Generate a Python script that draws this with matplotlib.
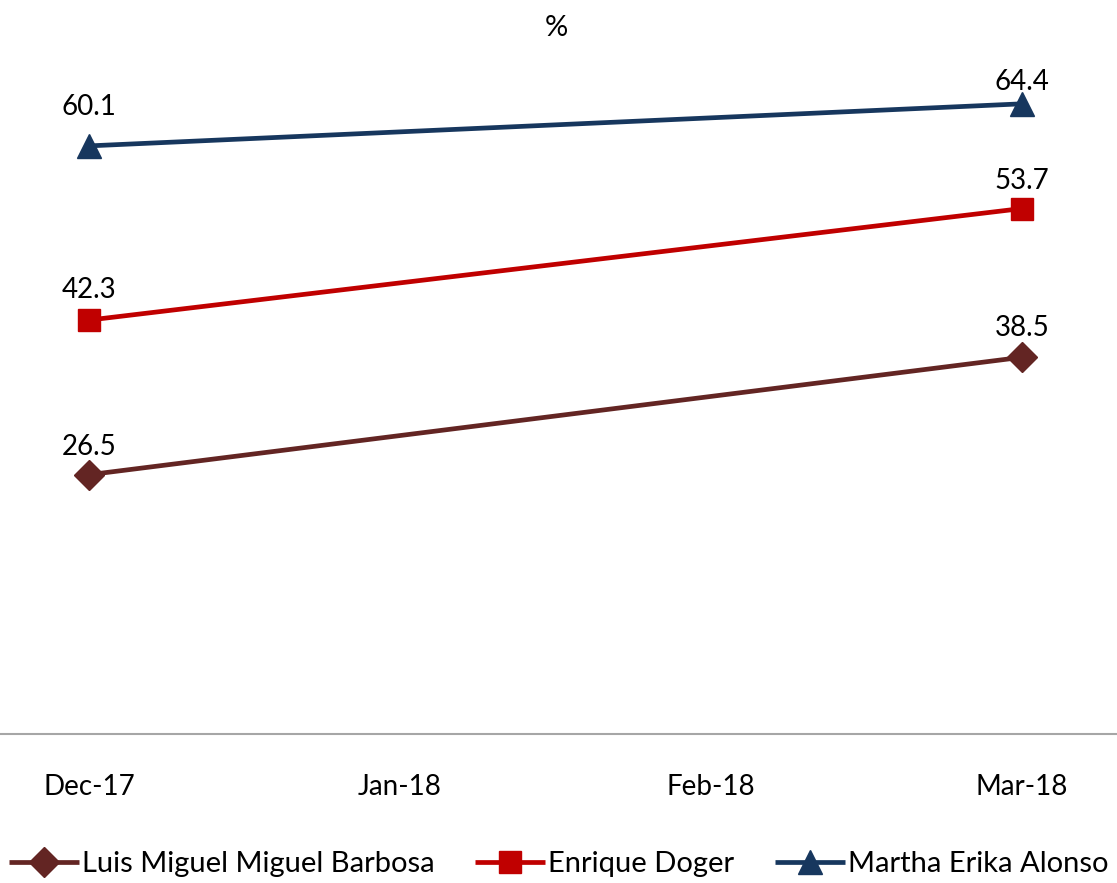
import matplotlib
matplotlib.use("Agg")
import matplotlib.pyplot as plt

plt.rcParams["font.family"] = ["Lato", "DejaVu Sans"]

months = ["Dec-17", "Jan-18", "Feb-18", "Mar-18"]
idx = [0, 3]  # only Dec-17 and Mar-18 have values
luis = [26.5, 38.5]
enrique = [42.3, 53.7]
martha = [60.1, 64.4]

series = [
    ("Luis Miguel Miguel Barbosa", luis, "#632523", "D", 15),
    ("Enrique Doger", enrique, "#C00000", "s", 16),
    ("Martha Erika Alonso", martha, "#17375E", "^", 17),
]
# label offsets above marker (points)
offsets = {"Luis Miguel Miguel Barbosa": [20, 21],
           "Enrique Doger": [22, 20],
           "Martha Erika Alonso": [28, 16]}

fig = plt.figure(figsize=(11.17, 8.83), dpi=100)
ax = fig.add_axes([0, 0.1687, 1, 0.7758])

for name, vals, color, mk, ms in series:
    ax.plot(idx, vals, color=color, lw=3.4, marker=mk, ms=ms, label=name,
            solid_capstyle="butt")
    for x, v, off in zip(idx, vals, offsets[name]):
        ax.annotate(f"{v:.1f}", (x, v), xytext=(0, off), textcoords="offset points",
                    ha="center", va="center", fontsize=20, color="black")

ax.set_xlim(-89 / 311, 3 + 95 / 311)
ax.set_ylim(0, 70)
ax.set_xticks(range(len(months)))
ax.set_xticklabels(months, fontsize=20)
ax.tick_params(axis="x", length=0, pad=29)
ax.set_yticks([])
for s in ["top", "right", "left"]:
    ax.spines[s].set_visible(False)
ax.spines["bottom"].set_color("#A6A6A6")
ax.spines["bottom"].set_linewidth(1.5)

fig.text(0.498, 0.968, "%", ha="center", va="center", fontsize=21)

fig.legend(loc="center", bbox_to_anchor=(0.5, 0.021), ncol=3, frameon=False,
           fontsize=21, handlelength=2.4, columnspacing=1.4, handletextpad=0.1,
           borderaxespad=0)

fig.savefig("out.png", dpi=100)
